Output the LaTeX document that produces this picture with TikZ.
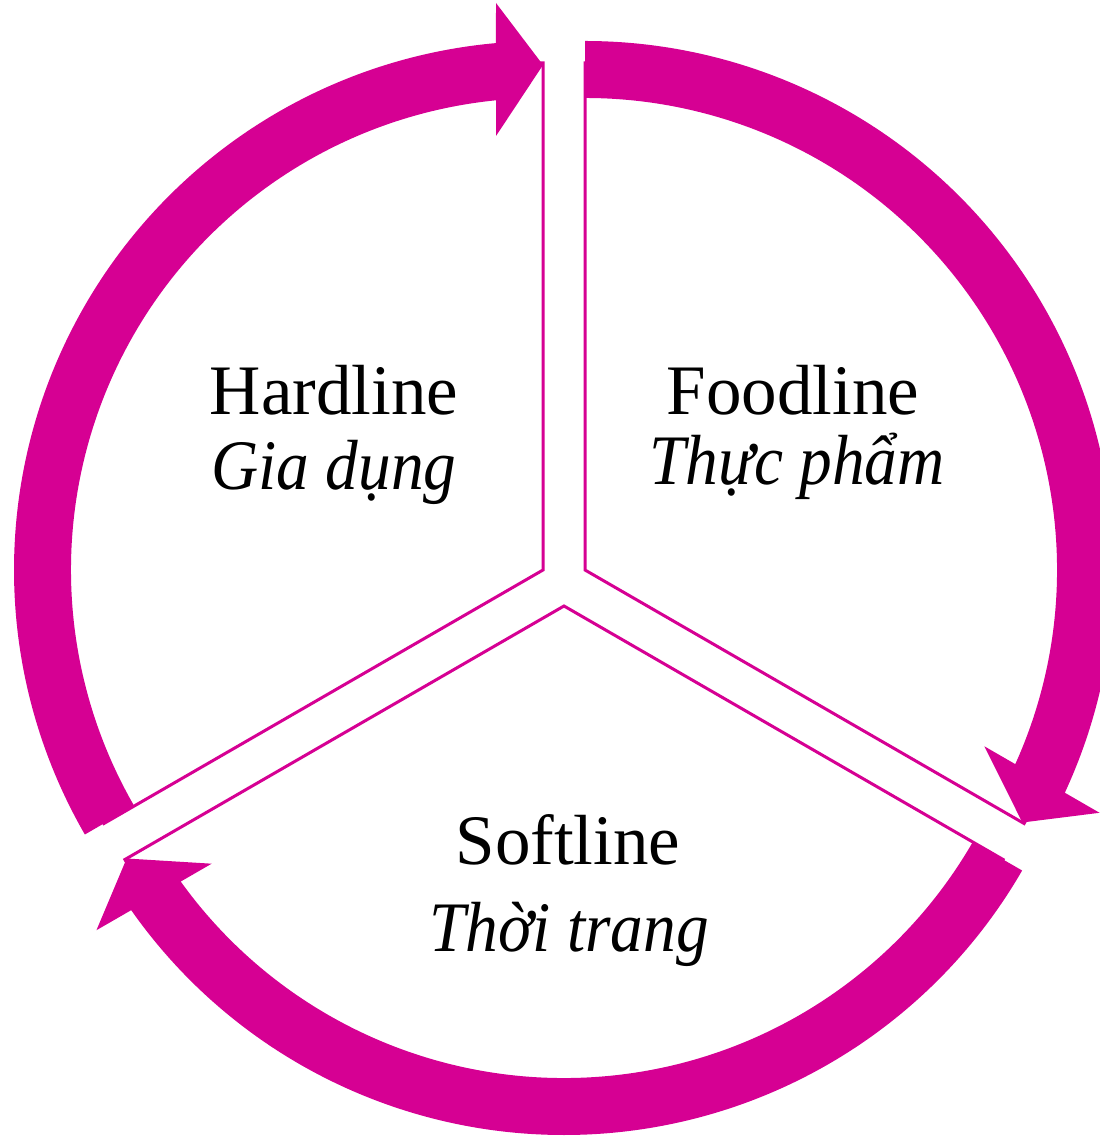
\documentclass[tikz,border=0pt]{standalone}
\usepackage{fontspec}
\setmainfont{Liberation Serif}[ItalicFeatures={FakeStretch=0.92}]
\definecolor{mag}{RGB}{214,0,147}
\begin{document}
\begin{tikzpicture}[x=0.5pt,y=0.5pt,
  slice/.style={draw=mag,line width=1.5pt,line join=miter,fill=white},
  cyclearrow/.style={fill=mag,draw=none},
  lbl/.style={anchor=base,inner sep=0pt,font=\fontsize{35.5}{42}\selectfont},
  lbli/.style={lbl,font=\fontsize{35.5}{42}\selectfont\itshape}]
\useasboundingbox (0,0) rectangle (1099,1136);
\fill[white] (0,0) rectangle (1099,1136);
\coordinate (H) at (543,566);
\coordinate (F) at (585,566);
\coordinate (S) at (564,530);
% slices
\draw[slice] (H) -- ++(90:507) arc[start angle=90,end angle=210,radius=507] -- cycle;
\draw[slice] (F) -- ++(-30:507) arc[start angle=-30,end angle=90,radius=507] -- cycle;
\draw[slice] (S) -- ++(210:507) arc[start angle=210,end angle=330,radius=507] -- cycle;
% arrows (drawn with the tip at local 90 degrees, then rotated)
\def\cyclearrowpath{(210:529) arc[start angle=210,end angle=95.1,radius=529] -- (-47,567) -- (0,505) -- (-47,434) -- (-47,469.7) arc[start angle=95.71,end angle=210,radius=472] -- cycle}
\begin{scope}[shift={(H)}]
\fill[cyclearrow] \cyclearrowpath;
\end{scope}
\begin{scope}[shift={(F)},rotate=-120]
\fill[cyclearrow] \cyclearrowpath;
\end{scope}
\begin{scope}[shift={(S)},rotate=120]
\fill[cyclearrow] \cyclearrowpath;
\end{scope}
% labels
\node[lbl] (hard1) at (334,721) {Hardline};
\node[lbli] (hard2) at (334,646) {Gia dụng};
\node[lbl] (food1) at (793,721) {Foodline};
\node[lbli] (food2) at (797,651) {Thực phẩm};
\node[lbl] (soft1) at (568,271) {Softline};
\node[lbli] (soft2) at (569,184) {Thời trang};
\end{tikzpicture}
\end{document}
